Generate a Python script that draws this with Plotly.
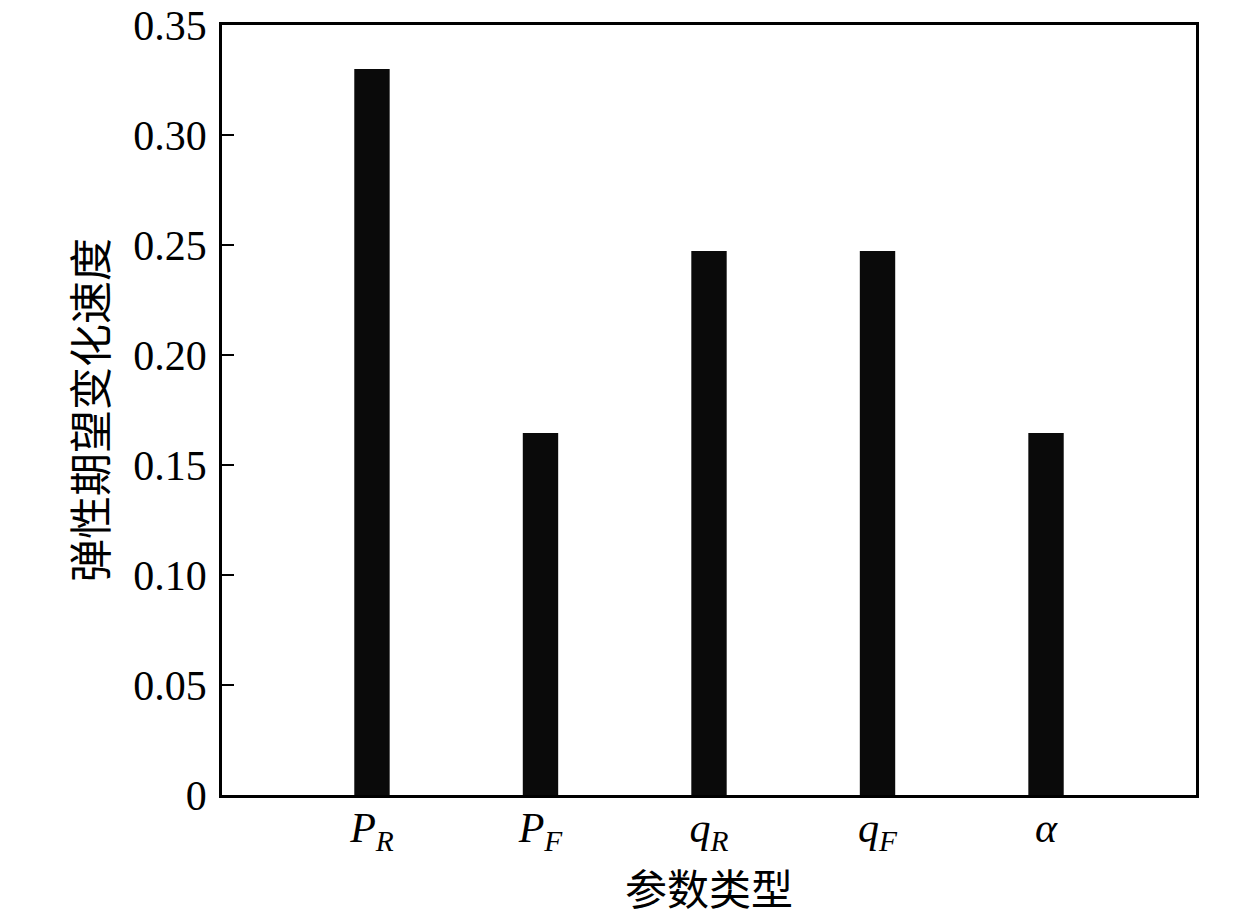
import plotly.graph_objects as go

categories = ["<i>P</i><sub><i>R</i></sub>", "<i>P</i><sub><i>F</i></sub>",
              "<i>q</i><sub><i>R</i></sub>", "<i>q</i><sub><i>F</i></sub>", "<i>α</i>"]
values = [0.330, 0.1645, 0.2473, 0.2473, 0.1645]
y_ticks = [0, 0.05, 0.10, 0.15, 0.20, 0.25, 0.30, 0.35]
y_tick_labels = ["0", "0.05", "0.10", "0.15", "0.20", "0.25", "0.30", "0.35"]
x_title = "参数类型"
y_title = "弹性期望变化速度"

serif = "Liberation Serif, DejaVu Serif, serif"
cjk = "Noto Sans CJK SC"

fig = go.Figure(go.Bar(
    x=list(range(len(categories))), y=values, width=0.21,
    marker=dict(color="#0a0a0a", line=dict(width=0)),
))

fig.update_layout(
    width=1260, height=912,
    margin=dict(l=222, r=64, t=25, b=117),
    paper_bgcolor="white", plot_bgcolor="white",
    showlegend=False,
    font=dict(family=serif, size=42, color="black"),
)
fig.update_xaxes(
    range=[-0.89, 4.89], automargin=False,
    tickmode="array", tickvals=list(range(len(categories))), ticktext=categories,
    ticks="", showgrid=False, zeroline=False,
    showline=True, linecolor="black", linewidth=2.5, mirror=True,
    tickfont=dict(family=serif, size=42),
    ticklabelstandoff=-6,
)
fig.update_yaxes(
    range=[0, 0.35], automargin=False,
    tickmode="array", tickvals=y_ticks, ticktext=y_tick_labels,
    ticks="inside", ticklen=12, tickwidth=2, tickcolor="black",
    showgrid=False, zeroline=False,
    showline=True, linecolor="black", linewidth=2.5, mirror=True,
    tickfont=dict(family=serif, size=42),
    ticklabelstandoff=4, ticklabeloverflow="allow",
)
fig.add_annotation(text=x_title, xref="paper", yref="paper", x=0.5, y=-0.119,
                   xanchor="center", yanchor="middle", showarrow=False,
                   font=dict(family=cjk, size=42, color="black"))
fig.add_annotation(text=y_title, xref="paper", yref="paper", x=-0.1376, y=0.5,
                   xanchor="center", yanchor="middle", showarrow=False, textangle=-90,
                   font=dict(family=cjk, size=43, color="black"))

fig.write_html("out.html", config={"displayModeBar": False},
               post_script="document.body.style.margin='0';document.body.style.overflow='hidden';")
